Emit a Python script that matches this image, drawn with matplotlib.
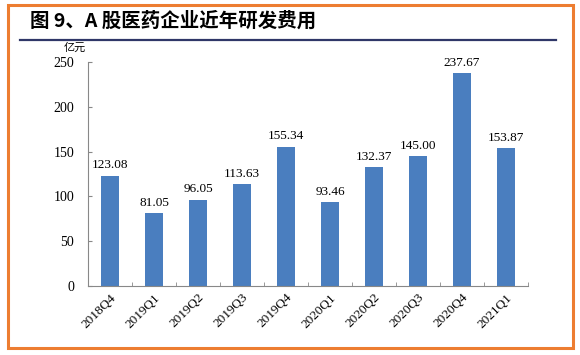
import matplotlib
matplotlib.use("Agg")
import matplotlib.pyplot as plt
from matplotlib.patches import Rectangle
from matplotlib.lines import Line2D
import numpy as np

quarters = ['2018Q4', '2019Q1', '2019Q2', '2019Q3', '2019Q4',
            '2020Q1', '2020Q2', '2020Q3', '2020Q4', '2021Q1']
rd_cost = [123.08, 81.05, 96.05, 113.63, 155.34, 93.46, 132.37, 145.00, 237.67, 153.87]

SERIF = ['Liberation Serif', 'DejaVu Serif']
CJK = ['Noto Sans CJK SC', 'DejaVu Sans']

fig = plt.figure(figsize=(5.8, 3.55), dpi=100)
fig.patch.set_facecolor('white')

# orange frame and title rule
fig.patches.append(Rectangle((8/580, 1-348/355), 565/580, 343/355, transform=fig.transFigure,
                             fill=False, edgecolor='#ED7D31', linewidth=2.2))
fig.lines.append(Line2D([20/580, 556/580], [1-40/355, 1-40/355], transform=fig.transFigure,
                        color='#2F3768', linewidth=1.6))
fig.text(30/580, 1-21/355, '图 9、A 股医药企业近年研发费用', family=CJK, fontweight='bold',
         fontsize=14, va='center', ha='left', color='black')

ax = fig.add_axes([88/580, 1-286/355, 440/580, 224/355])
x = np.arange(len(quarters))
ax.bar(x, rd_cost, width=0.39, color='#4A7EBF', zorder=2)
for xi, v in zip(x, rd_cost):
    ax.text(xi, v + 5, f'{v:.2f}', ha='center', va='bottom', fontsize=9.5, family=SERIF)

ax.set_xlim(-0.5, len(quarters) - 0.5)
ax.set_ylim(0, 250)
ax.set_yticks(range(0, 251, 50))
ax.set_xticks(x)
ax.set_xticklabels(quarters, rotation=45, ha='right', rotation_mode='anchor', family=SERIF, fontsize=9.5)
for lbl in ax.get_yticklabels():
    lbl.set_family(SERIF)
    lbl.set_fontsize(10)
ax.set_xticks(np.arange(-0.5, len(quarters)), minor=True)
ax.tick_params(axis='x', which='major', length=0, pad=4)
ax.tick_params(axis='x', which='minor', length=3, direction='in', color='#888888')
ax.tick_params(axis='y', length=3, direction='in', color='#888888', pad=10)
for side in ['top', 'right']:
    ax.spines[side].set_visible(False)
for side in ['left', 'bottom']:
    ax.spines[side].set_color('#888888')
ax.text(-0.005, 1.04, '亿元', transform=ax.transAxes, ha='right', va='bottom', fontsize=8, family=CJK)

fig.savefig('out.png', dpi=100)
